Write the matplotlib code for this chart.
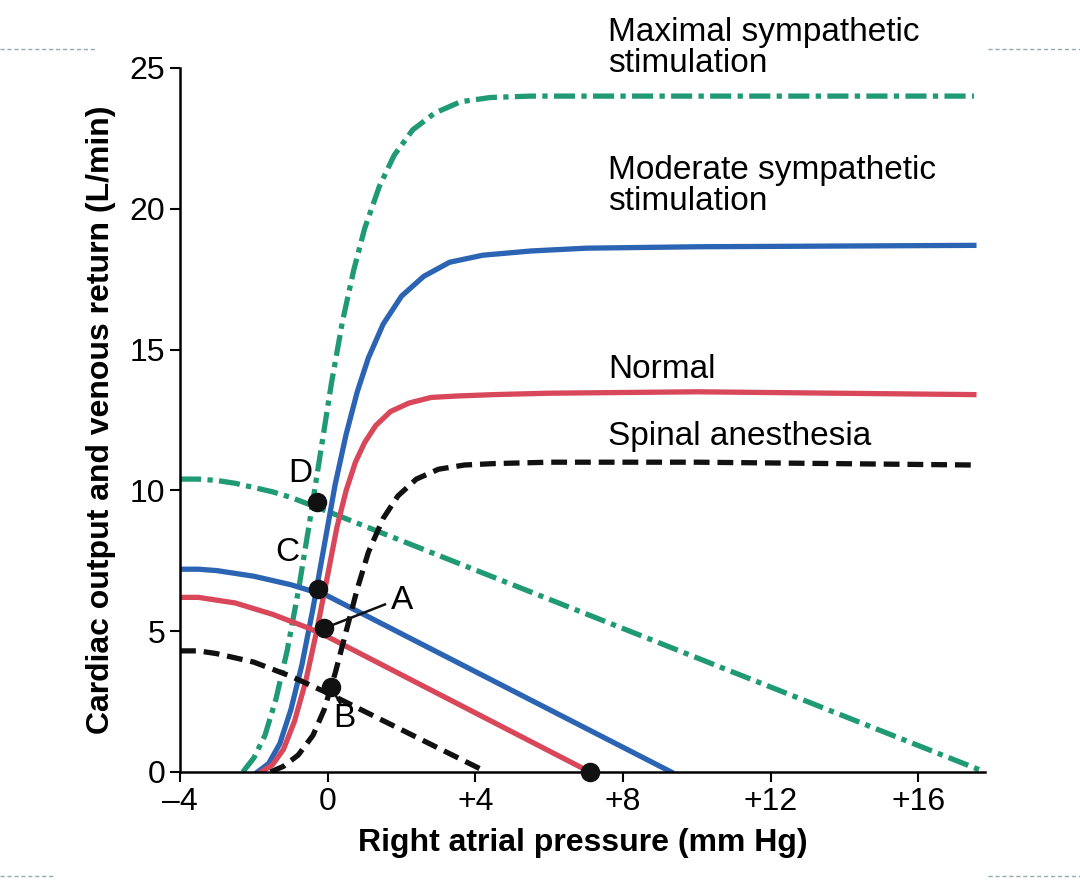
import numpy as np
import matplotlib
matplotlib.use("Agg")
import matplotlib.pyplot as plt
from matplotlib.lines import Line2D

plt.rcParams["font.family"] = "Liberation Sans"

RED, BLUE, GREEN, BLACK = "#d9475a", "#2a64b3", "#1f9a74", "#111111"

# cardiac output curves (x = right atrial pressure, y = L/min)
co_normal_x = [-1.8, -1.5, -1.2, -0.9, -0.6, -0.3, 0.0, 0.25, 0.5, 0.75, 1.0, 1.3, 1.7, 2.2, 2.8, 3.5, 4.5, 6, 10, 17.5]
co_normal_y = [0, 0.25, 0.8, 1.8, 3.2, 5.0, 7.0, 8.7, 10.0, 11.0, 11.7, 12.3, 12.8, 13.1, 13.3, 13.35, 13.4, 13.45, 13.5, 13.4]
co_mod_x = [-1.9, -1.6, -1.3, -1.0, -0.7, -0.4, -0.1, 0.2, 0.5, 0.8, 1.1, 1.5, 2.0, 2.6, 3.3, 4.2, 5.5, 7, 10, 17.5]
co_mod_y = [0, 0.3, 1.0, 2.2, 3.8, 5.8, 8.0, 10.2, 12.0, 13.5, 14.7, 15.9, 16.9, 17.6, 18.1, 18.35, 18.5, 18.6, 18.65, 18.7]
co_max_x = [-2.3, -2.0, -1.7, -1.4, -1.1, -0.8, -0.5, -0.2, 0.1, 0.4, 0.7, 1.0, 1.4, 1.8, 2.3, 2.9, 3.6, 4.4, 5.5, 17.5]
co_max_y = [0, 0.5, 1.3, 2.6, 4.3, 6.4, 8.8, 11.3, 13.8, 16.0, 17.8, 19.3, 20.8, 21.9, 22.8, 23.4, 23.8, 23.95, 24, 24]
co_spinal_x = [-1.55, -1.2, -0.8, -0.4, -0.1, 0.2, 0.5, 0.8, 1.1, 1.5, 1.9, 2.4, 3.0, 3.7, 4.5, 6, 10, 17.5]
co_spinal_y = [0, 0.2, 0.6, 1.3, 2.2, 3.5, 5.0, 6.5, 7.8, 9.0, 9.8, 10.4, 10.75, 10.9, 10.95, 11.0, 11.0, 10.9]

# venous return curves
vr_max_x = [-4, -3.5, -3, -2.5, -2, -1.5, -1, -0.5, 0, 17.8]
vr_max_y = [10.4, 10.4, 10.35, 10.25, 10.1, 9.95, 9.75, 9.5, 9.25, 0]
vr_mod_x = [-4, -3.5, -3, -2.5, -2, -1.5, -1, -0.5, 0, 9.3]
vr_mod_y = [7.2, 7.2, 7.15, 7.05, 6.95, 6.8, 6.65, 6.45, 6.25, 0]
vr_normal_x = [-4, -3.5, -3, -2.5, -2, -1.5, -1, -0.5, 0, 7.1]
vr_normal_y = [6.2, 6.2, 6.1, 6.0, 5.8, 5.6, 5.35, 5.1, 4.8, 0]
vr_spinal_x = [-4, -3.5, -3, -2.5, -2, -1.5, -1, -0.5, 0, 4.3]
vr_spinal_y = [4.3, 4.3, 4.2, 4.05, 3.9, 3.65, 3.4, 3.1, 2.8, 0]

pts_x = [-0.3, -0.25, -0.1, 0.1, 7.1]
pts_y = [9.6, 6.5, 5.1, 3.0, 0]

fig = plt.figure(figsize=(10.8, 8.94), dpi=100)
ax = fig.add_axes([0.1667, 0.1365, 0.7453, 0.7875])
lw = 3.8
gdash = dict(ls=(0, (4, 1.2, 1, 1.2)))
ax.plot(co_max_x, co_max_y, color=GREEN, lw=lw, **gdash)
ax.plot(vr_max_x, vr_max_y, color=GREEN, lw=lw, **gdash)
ax.plot(co_mod_x, co_mod_y, color=BLUE, lw=lw)
ax.plot(vr_mod_x, vr_mod_y, color=BLUE, lw=lw)
ax.plot(co_normal_x, co_normal_y, color=RED, lw=lw)
ax.plot(vr_normal_x, vr_normal_y, color=RED, lw=lw)
ax.plot(co_spinal_x, co_spinal_y, color=BLACK, lw=lw, ls=(0, (3, 1.5)))
ax.plot(vr_spinal_x, vr_spinal_y, color=BLACK, lw=lw, ls=(0, (3, 1.5)))
ax.scatter(pts_x, pts_y, s=170, color=BLACK, zorder=5, clip_on=False)

fs = 24
ax.text(-0.75, 10.6, "D", fontsize=fs, ha="center", va="center")
ax.text(-1.1, 7.8, "C", fontsize=fs, ha="center", va="center")
ax.text(2.0, 6.1, "A", fontsize=fs, ha="center", va="center")
ax.text(0.45, 1.9, "B", fontsize=fs, ha="center", va="center")
ax.plot([-0.1, 1.55], [5.1, 5.95], color=BLACK, lw=1.8)
ax.plot([0.1, 0.35], [3.0, 2.4], color=BLACK, lw=1.8)

ax.text(7.6, 26.8, "Maximal sympathetic\nstimulation", fontsize=fs, va="top", linespacing=1.0, clip_on=False)
ax.text(7.6, 21.9, "Moderate sympathetic\nstimulation", fontsize=fs, va="top", linespacing=1.0)
ax.text(7.6, 14.3, "Normal", fontsize=fs, va="center")
ax.text(7.6, 11.9, "Spinal anesthesia", fontsize=fs, va="center")

ax.set_xlim(-4, 17.8)
ax.set_ylim(0, 25)
ax.set_xticks([-4, 0, 4, 8, 12, 16])
ax.set_xticklabels(["\u20134", "0", "+4", "+8", "+12", "+16"])
ax.set_yticks([0, 5, 10, 15, 20, 25])
ax.tick_params(labelsize=23, width=1.5, length=7)
for s in ("top", "right"):
    ax.spines[s].set_visible(False)
for s in ("left", "bottom"):
    ax.spines[s].set_linewidth(1.8)
ax.set_xlabel("Right atrial pressure (mm Hg)", fontsize=23, fontweight="bold", labelpad=8)
ax.set_ylabel("Cardiac output and venous return (L/min)", fontsize=23, fontweight="bold", labelpad=10)

# faint slide decoration lines
for xs, y in [((0.0, 0.09), 0.945), ((0.915, 1.0), 0.945), ((0.0, 0.05), 0.02), ((0.915, 1.0), 0.02)]:
    fig.add_artist(Line2D(xs, [y, y], color="#9aa", lw=1, ls=(0, (3, 2))))

fig.savefig("out.png", dpi=100)
